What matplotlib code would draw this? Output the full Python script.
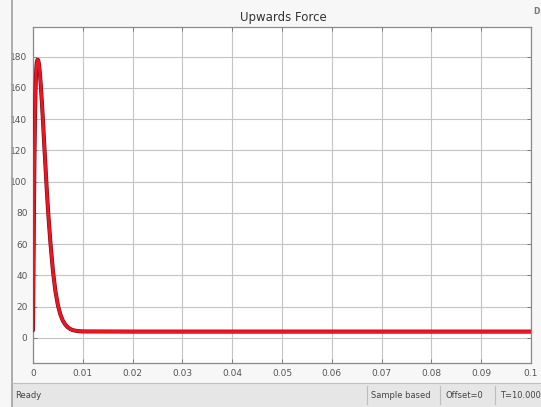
import matplotlib
matplotlib.use("Agg")
import matplotlib.pyplot as plt
from matplotlib.patches import Rectangle
from matplotlib.lines import Line2D

# Data
time_s = [0.0, 0.0001, 0.0002, 0.0003, 0.0004, 0.0005, 0.0006, 0.0007, 0.0008, 0.0009,
          0.0010, 0.0011, 0.0012, 0.0014, 0.0016, 0.0018, 0.0020, 0.0022, 0.0025,
          0.0028, 0.0031, 0.0035, 0.0040, 0.0045, 0.0050, 0.0055, 0.0060, 0.0065,
          0.0070, 0.0075, 0.0080, 0.0090, 0.0100, 0.0200, 0.0500, 0.1000]
force = [5, 45, 85, 118, 142, 158, 168, 174, 177, 178,
         178, 177, 175, 169, 160, 150, 139, 127, 110,
         93, 78, 61, 43, 30, 21, 15, 11, 8.5,
         6.8, 5.7, 5.0, 4.4, 4.2, 4.1, 4.1, 4.1]

xticks = [0, 0.01, 0.02, 0.03, 0.04, 0.05, 0.06, 0.07, 0.08, 0.09, 0.1]
xticklabels = ["0", "0.01", "0.02", "0.03", "0.04", "0.05", "0.06", "0.07", "0.08", "0.09", "0.1"]
yticks = [0, 20, 40, 60, 80, 100, 120, 140, 160, 180]
title = "Upwards Force"
status_items = ["Ready", "Sample based", "Offset=0", "T=10.000"]

W, H = 541, 407
fig = plt.figure(figsize=(W / 100, H / 100), dpi=100)
fig.patch.set_facecolor("#f7f7f7")

def fx(px):
    return px / W

def fy(py):
    return 1 - py / H

ax = fig.add_axes([fx(33), fy(363), fx(531) - fx(33), fy(27) - fy(363)])
ax.set_facecolor("white")
ax.plot(time_s, force, color="#6a0c18", lw=2.9, solid_capstyle="round", zorder=3)
ax.plot(time_s, force, color="#ee1420", lw=2.1, solid_capstyle="round", zorder=4)
ax.set_xlim(0, 0.1)
ax.set_ylim(-16, 199)
ax.set_xticks(xticks)
ax.set_xticklabels(xticklabels)
ax.set_yticks(yticks)
ax.grid(True, color="#c4c4c4", lw=0.8)
ax.tick_params(direction="in", length=3, width=0.6, colors="#707070", labelsize=6.5,
               labelcolor="#555555", top=True, right=True, pad=4)
for s in ax.spines.values():
    s.set_color("#8a8a8a")
    s.set_linewidth(0.9)

fig.text(fx(283), fy(17), title, ha="center", va="center", fontsize=8.5, color="#333333")

# icon at top right
fig.text(fx(533), fy(11), "D", ha="left", va="center", fontsize=5.5, color="#777777", weight="bold")

# window left border
fig.add_artist(Line2D([fx(12), fx(12)], [0, 1], color="#a0a0a0", lw=1.2))

# status bar
fig.add_artist(Rectangle((fx(12), 0), 1 - fx(12), fy(383), color="#e6e6e6", lw=0))
fig.add_artist(Line2D([fx(12), 1], [fy(383), fy(383)], color="#c0c0c0", lw=0.8))
for sx in [367, 440, 495]:
    fig.add_artist(Line2D([fx(sx), fx(sx)], [fy(404), fy(386)], color="#bdbdbd", lw=0.8))
fig.text(fx(15), fy(396), status_items[0], ha="left", va="center", fontsize=6, color="#444444")
fig.text(fx(371), fy(396), status_items[1], ha="left", va="center", fontsize=6, color="#444444")
fig.text(fx(446), fy(396), status_items[2], ha="left", va="center", fontsize=6, color="#444444")
fig.text(fx(500), fy(396), status_items[3], ha="left", va="center", fontsize=6, color="#444444")

fig.savefig("out.png", dpi=100, facecolor=fig.get_facecolor())
